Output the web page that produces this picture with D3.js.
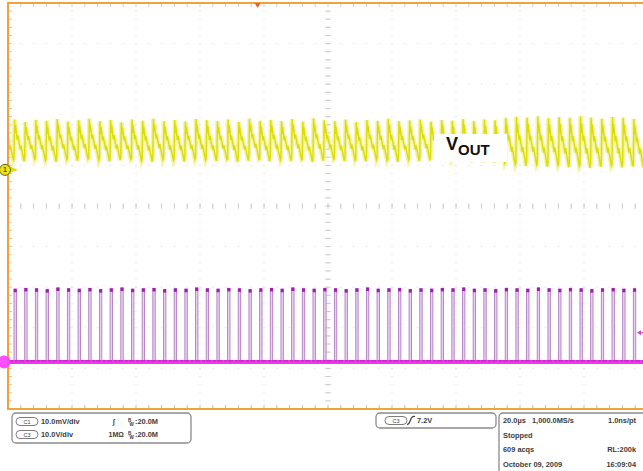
<!DOCTYPE html>
<html>
<head>
<meta charset="utf-8">
<script src="https://cdn.jsdelivr.net/npm/d3@7/dist/d3.min.js"></script>
<style>
  body { margin: 0; background: #fff; }
  svg { display: block; }
  text { font-family: "Liberation Sans", Arial, sans-serif; }
</style>
</head>
<body>
<svg id="scope" width="643" height="471"></svg>
<script>
// horizontal: 20 us/div, 10 divisions
let timeDomain = [0, 200];
// channel settings (scale per division, marker position in divisions from centre)
let ch1 = { scale: 10, position: 0.89 };   // mV/div
let ch3 = { scale: 10, position: -3.84 };  // V/div

// switching edges (us), one per cycle
let edgeTimes = [
  -1.46, 1.88, 5.21, 8.55, 11.89, 15.22, 18.56, 21.90, 25.23, 28.57, 31.91,
  35.25, 38.58, 41.92, 45.26, 48.59, 51.93, 55.27, 58.60, 61.94, 65.28,
  68.62, 71.95, 75.29, 78.63, 81.96, 85.30, 88.64, 91.97, 95.31, 98.65,
  101.99, 105.32, 108.66, 112.00, 115.33, 118.67, 122.01, 125.34, 128.68, 132.02,
  135.36, 138.69, 142.03, 145.37, 148.70, 152.04, 155.38, 158.71, 162.05, 165.39,
  168.73, 172.06, 175.40, 178.74, 182.07, 185.41, 188.75, 192.08, 195.42, 198.76
];
// C3 switch node pulse tops (V)
let pulseTops = [
  18.0, 17.9, 18.1, 18.0, 17.8, 18.2, 18.0, 17.9, 18.1, 17.8, 18.0,
  18.2, 17.9, 18.0, 18.1, 17.8, 18.0, 17.9, 18.2, 18.0, 17.9,
  18.1, 18.0, 17.8, 18.0, 18.1, 17.9, 18.2, 18.0, 17.9, 18.1,
  18.0, 17.8, 18.0, 18.2, 17.9, 18.0, 18.1, 17.8, 18.0, 17.9,
  18.1, 18.0, 18.2, 17.9, 18.0, 17.8, 18.1, 18.0, 17.9, 18.2,
  18.0, 17.9, 18.1, 18.0, 17.8, 18.0, 18.1, 17.9, 18.0, 18.0
];
let pulseWidth = 0.75; // us
// C1 ripple peaks and valleys per cycle (mV)
let ripplePeaks = [
  12.0, 12.4, 11.8, 12.3, 12.1, 12.5, 11.9, 12.2, 12.6, 12.0, 12.3,
  11.7, 12.4, 12.1, 12.6, 12.0, 12.3, 11.9, 12.5, 12.2, 12.0,
  12.4, 11.8, 12.6, 12.1, 12.3, 12.0, 12.5, 11.9, 12.7, 12.2,
  12.0, 12.4, 11.8, 12.3, 12.1, 12.6, 12.0, 12.2, 12.4, 11.9,
  12.3, 12.1, 12.5, 12.0, 12.4, 12.2, 12.8, 13.1, 12.9, 13.2,
  12.7, 13.0, 12.8, 13.2, 12.9, 12.6, 13.0, 12.8, 12.5, 12.9
];
let rippleValleys = [
  2.4, 2.1, 2.6, 2.3, 2.0, 2.5, 2.2, 2.7, 2.3, 2.1, 2.4,
  2.6, 2.2, 2.0, 2.5, 2.3, 2.1, 2.6, 2.4, 2.2, 2.5,
  2.0, 2.3, 2.6, 2.1, 2.4, 2.2, 2.5, 2.0, 2.3, 2.6,
  2.2, 2.4, 2.1, 2.5, 2.3, 2.0, 2.4, 2.2, 2.6, 2.1,
  2.3, 2.0, 2.4, 1.9, 2.2, 1.6, 1.3, 1.0, 1.2, 0.8,
  1.1, 0.7, 0.9, 0.5, 0.8, 1.0, 0.6, 0.9, 0.7, 1.0
];
// shape of one ripple cycle: [fraction of period, fraction of peak-to-peak]
let rippleShape = [
  [0, 0.06], [0.05, 1], [0.11, 0.68], [0.15, 0.86], [0.3, 0.52], [0.35, 0.62],
  [0.6, 0.28], [0.65, 0.38], [0.94, 0], [1, 0.06]
];

let channelRows = [
  { ch: "C1", vdiv: "10.0mV/div", coupling: "\u222B", bw: "20.0M" },
  { ch: "C3", vdiv: "10.0V/div", coupling: "1M\u03A9", bw: "20.0M" }
];
let trigger = { ch: "C3", level: "7.2V", position: 78 };
let acqLines = [
  ["20.0\u00B5s", "1,000.0MS/s", "1.0ns/pt"],
  ["Stopped", "", ""],
  ["609 acqs", "", "RL:200k"],
  ["October 09, 2009", "", "16:09:04"]
];

let svg = d3.select("#scope");
let plotL = 8, plotR = 648, plotT = 3, plotB = 409;

let x = d3.scaleLinear().domain(timeDomain).range([plotL, plotR]);
let gx = d3.scaleLinear().domain([0, 10]).range([plotL, plotR]);
let gy = d3.scaleLinear().domain([-5, 5]).range([plotB, plotT]);
let y1 = d3.scaleLinear()
  .domain([(-5 - ch1.position) * ch1.scale, (5 - ch1.position) * ch1.scale])
  .range([plotB, plotT]);
let y3 = d3.scaleLinear()
  .domain([(-5 - ch3.position) * ch3.scale, (5 - ch3.position) * ch3.scale])
  .range([plotB, plotT]);

svg.append("defs").append("clipPath").attr("id", "plot")
  .append("rect").attr("x", plotL + 1).attr("y", plotT + 1)
  .attr("width", plotR - plotL).attr("height", plotB - plotT - 1);

// graticule
let grid = svg.append("g");
let minorY = d3.range(-5, 5.001, 0.2);
let minorX = d3.range(0, 10.001, 0.2);
d3.range(1, 10).forEach(function(i) {
  grid.selectAll(null).data(minorY).enter().append("rect")
    .attr("x", gx(i) - 0.5).attr("y", d => gy(d) - 0.5)
    .attr("width", 1).attr("height", 1).attr("fill", i == 5 ? "#b8b8b8" : "#d4d4d4");
});
d3.range(-4, 5).forEach(function(j) {
  grid.selectAll(null).data(minorX).enter().append("rect")
    .attr("x", d => gx(d) - 0.5).attr("y", gy(j) - 0.5)
    .attr("width", 1).attr("height", 1).attr("fill", j == 0 ? "#b8b8b8" : "#d4d4d4");
});
// centre cross ticks
grid.selectAll(null).data(minorY).enter().append("line")
  .attr("x1", gx(5) - 3).attr("x2", gx(5) + 3)
  .attr("y1", d => gy(d)).attr("y2", d => gy(d))
  .attr("stroke", "#c4c4c4").attr("stroke-width", 0.8);
grid.selectAll(null).data(minorX).enter().append("line")
  .attr("y1", gy(0) - 3).attr("y2", gy(0) + 3)
  .attr("x1", d => gx(d)).attr("x2", d => gx(d))
  .attr("stroke", "#c4c4c4").attr("stroke-width", 0.8);
// edge ticks
grid.selectAll(null).data(minorX).enter().append("line")
  .attr("x1", d => gx(d)).attr("x2", d => gx(d))
  .attr("y1", plotT).attr("y2", plotT + 4)
  .attr("stroke", "#c0c0c0").attr("stroke-width", 0.8);
grid.selectAll(null).data(minorX).enter().append("line")
  .attr("x1", d => gx(d)).attr("x2", d => gx(d))
  .attr("y1", plotB).attr("y2", plotB - 4)
  .attr("stroke", "#a8a8a8").attr("stroke-width", 0.8);
grid.selectAll(null).data(minorY).enter().append("line")
  .attr("x1", plotL).attr("x2", plotL + 4)
  .attr("y1", d => gy(d)).attr("y2", d => gy(d))
  .attr("stroke", "#f0b060").attr("stroke-width", 0.8);

let traces = svg.append("g").attr("clip-path", "url(#plot)");

// C3 pulses
let pulses = edgeTimes.map((t, i) => ({ t: t, top: pulseTops[i] }));
traces.selectAll("rect.pulse").data(pulses).enter().append("rect")
  .attr("class", "pulse")
  .attr("x", d => x(d.t)).attr("width", x(pulseWidth) - x(0))
  .attr("y", d => y3(d.top)).attr("height", d => y3(0) - y3(d.top))
  .attr("fill", "#e6d2ec").attr("stroke", "#b37cc4").attr("stroke-width", 0.9);
traces.selectAll("rect.tip").data(pulses).enter().append("rect")
  .attr("class", "tip")
  .attr("x", d => x(d.t) - 0.3).attr("width", x(pulseWidth) - x(0) + 0.6)
  .attr("y", d => y3(d.top) - 0.5).attr("height", 3.5)
  .attr("fill", "#a21cb4");
traces.append("line")
  .attr("x1", plotL).attr("x2", plotR).attr("y1", y3(0)).attr("y2", y3(0))
  .attr("stroke", "#e83ae8").attr("stroke-width", 4);
traces.append("line")
  .attr("x1", plotL).attr("x2", plotR).attr("y1", y3(0) - 1).attr("y2", y3(0) - 1)
  .attr("stroke", "#c418c8").attr("stroke-width", 1)
  .attr("stroke-dasharray", "5,2,3,1");

// C1 ripple
let ripple = [];
for (let i = 0; i < edgeTimes.length - 1; i++) {
  let t0 = edgeTimes[i], t1 = edgeTimes[i + 1];
  let lo = rippleValleys[i], hi = ripplePeaks[i];
  rippleShape.forEach(function(p, j) {
    if (j == rippleShape.length - 1 && i < edgeTimes.length - 2) return;
    ripple.push({ t: t0 + p[0] * (t1 - t0), v: lo + p[1] * (hi - lo) });
  });
}
let line1 = d3.line().x(d => x(d.t)).y(d => y1(d.v));
traces.append("path").datum(ripple).attr("d", line1)
  .attr("fill", "none").attr("stroke", "#efef7a").attr("stroke-width", 4.5)
  .attr("stroke-opacity", 0.7);
traces.append("path").datum(ripple).attr("d", line1)
  .attr("fill", "none").attr("stroke", "#dcdc0c").attr("stroke-width", 1.4);

// border
svg.append("path")
  .attr("d", "M" + (plotR + 5) + "," + plotT + "H" + plotL + "V" + plotB + "H" + (plotR + 5))
  .attr("fill", "none").attr("stroke", "#f2a23a").attr("stroke-width", 2);

// trigger position marker and level arrow
let tx = x(trigger.position);
svg.append("path").attr("d", "M" + (tx - 3) + "," + plotT + "L" + (tx + 3) + "," + plotT + "L" + tx + "," + (plotT + 5) + "Z")
  .attr("fill", "#e8642c");
let ty = y3(parseFloat(trigger.level));
svg.append("path").attr("d", "M" + 637 + "," + ty + "L" + 641 + "," + (ty - 2.5) + "L" + 641 + "," + (ty + 2.5) + "Z")
  .attr("fill", "#d040d0");
svg.append("line").attr("x1", 640).attr("x2", 644).attr("y1", ty).attr("y2", ty)
  .attr("stroke", "#d040d0").attr("stroke-width", 1);

// channel markers
let m1 = y1(0);
svg.append("path").attr("d", "M8," + (m1 - 4) + "L18," + m1 + "L8," + (m1 + 4) + "Z").attr("fill", "#e0dc10");
svg.append("circle").attr("cx", 5).attr("cy", m1).attr("r", 5.5)
  .attr("fill", "#e8e418").attr("stroke", "#6e6400").attr("stroke-width", 1);
svg.append("text").attr("x", 5).attr("y", m1 + 2.5).attr("text-anchor", "middle")
  .attr("font-size", 7).attr("font-weight", "bold").attr("fill", "#5a5000").text("1");
svg.append("circle").attr("cx", 4).attr("cy", y3(0)).attr("r", 6.5)
  .attr("fill", "#ff3cff").attr("opacity", 0.9);

// VOUT label
svg.append("rect").attr("x", 434).attr("y", 134).attr("width", 73).attr("height", 28).attr("fill", "#fff");
let vout = svg.append("text").attr("x", 446).attr("y", 150)
  .attr("font-weight", "bold").attr("fill", "#111");
vout.append("tspan").attr("font-size", 18).text("V");
vout.append("tspan").attr("font-size", 15).attr("dy", 4.5).text("OUT");

// readout boxes
let info = svg.append("g").attr("font-size", 7.4).attr("font-weight", "bold").attr("fill", "#3c3c3c");
function badge(g, cx, cy, label) {
  g.append("rect").attr("x", cx - 11).attr("y", cy - 4).attr("width", 22).attr("height", 8)
    .attr("rx", 4).attr("fill", "#fff").attr("stroke", "#5a5a5a").attr("stroke-width", 0.8);
  g.append("text").attr("x", cx).attr("y", cy + 2).attr("text-anchor", "middle")
    .attr("font-size", 5.5).attr("font-weight", "normal").attr("fill", "#444").text(label);
}
function bwLabel(g, bx, by, val) {
  g.append("text").attr("x", bx).attr("y", by - 2.3).attr("font-size", 4.6).text("B");
  g.append("text").attr("x", bx + 1.5).attr("y", by + 1.3).attr("font-size", 4.6).text("W");
  g.append("text").attr("x", bx + 7).attr("y", by).text(":" + val);
}

info.append("rect").attr("x", 12).attr("y", 413).attr("width", 179).attr("height", 30)
  .attr("rx", 4).attr("fill", "#fff").attr("stroke", "#8a8a8a").attr("stroke-width", 1.3);
channelRows.forEach(function(r, i) {
  let cy = 421.5 + i * 13;
  badge(info, 27, cy, r.ch);
  info.append("text").attr("x", 41).attr("y", cy + 2.7).text(r.vdiv);
  info.append("text").attr("x", r.coupling.length > 1 ? 108.5 : 113).attr("y", cy + 2.7)
    .attr("font-size", 7).text(r.coupling);
  bwLabel(info, 128, cy + 2.7, r.bw);
});

info.append("rect").attr("x", 376).attr("y", 413).attr("width", 120).attr("height", 15)
  .attr("rx", 4).attr("fill", "#fff").attr("stroke", "#8a8a8a").attr("stroke-width", 1.3);
badge(info, 396, 420.5, trigger.ch);
info.append("path").attr("d", "M407,424.5 Q409,424.5 410.5,420 T415,416.5")
  .attr("fill", "none").attr("stroke", "#3c3c3c").attr("stroke-width", 1.2);
info.append("text").attr("x", 417).attr("y", 423.3).text(trigger.level);

info.append("rect").attr("x", 499).attr("y", 413).attr("width", 160).attr("height", 70)
  .attr("rx", 4).attr("fill", "#fff").attr("stroke", "#8a8a8a").attr("stroke-width", 1.3);
let colX = [503, 532, 636];
acqLines.forEach(function(row, i) {
  let by = 423 + i * 14.5;
  row.forEach(function(s, j) {
    if (!s) return;
    info.append("text").attr("x", colX[j]).attr("y", by)
      .attr("text-anchor", j == 2 ? "end" : "start").text(s);
  });
});
</script>
</body>
</html>
